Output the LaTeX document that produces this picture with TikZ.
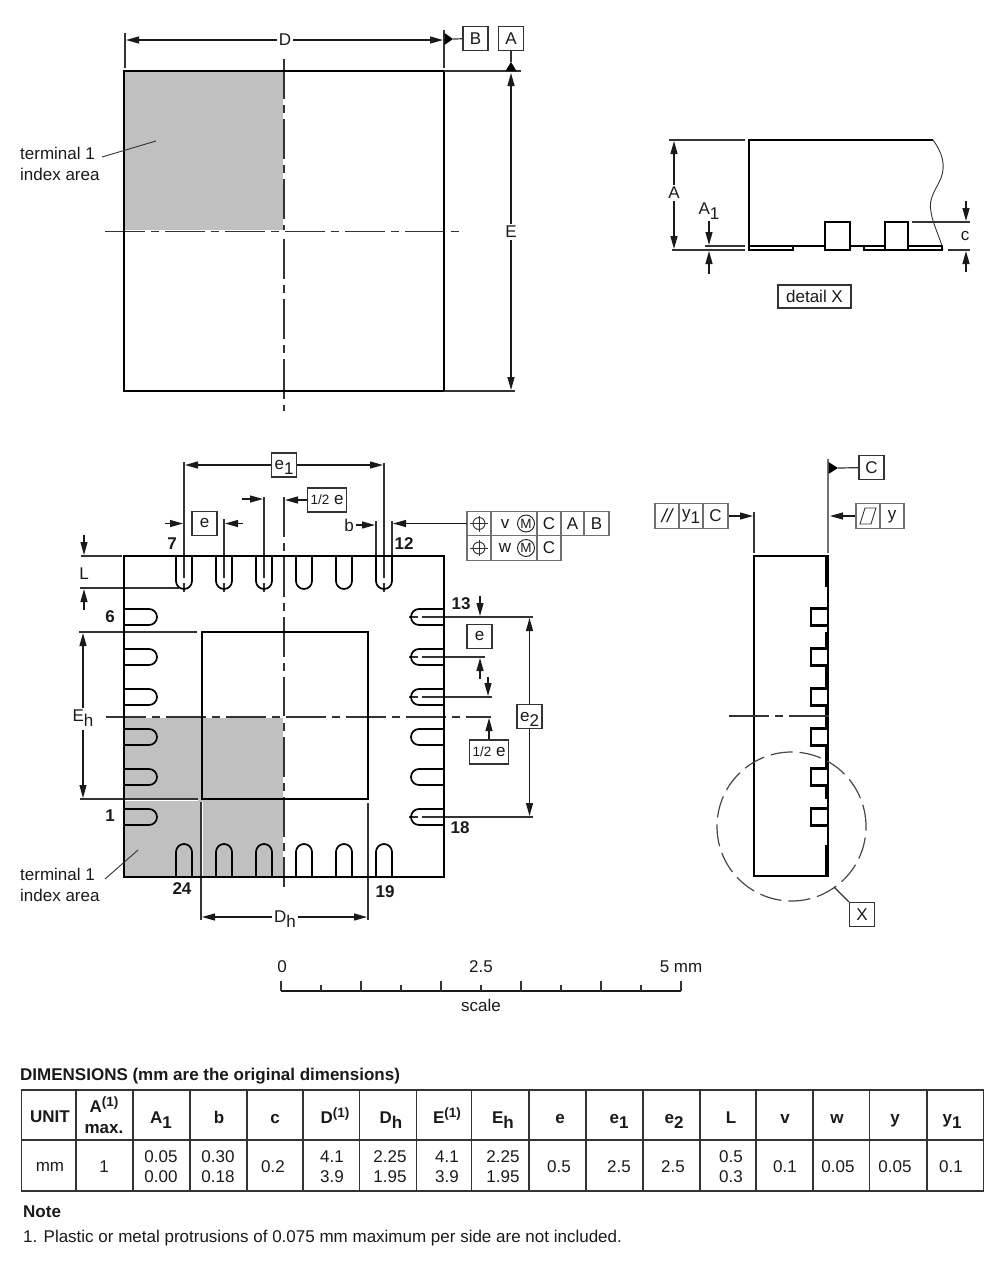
\documentclass[tikz,border=0pt]{standalone}
\usepackage{fontspec}
\setmainfont{Liberation Sans}
\usetikzlibrary{arrows.meta,positioning}
\definecolor{inkc}{HTML}{1A1A1A}
\definecolor{linec}{HTML}{333333}
\definecolor{indexc}{HTML}{C0C0C0}
\newcommand{\subtxt}[1]{\smash{\raisebox{-5pt}{#1}}}
\newcommand{\suptxt}[1]{\smash{\raisebox{6pt}{\fontsize{13.5}{13.5}\selectfont #1}}}
\newcommand{\halftxt}{{\fontsize{13.5}{13.5}\selectfont 1/2}}

\begin{document}
\begin{tikzpicture}[x=1pt, y=-1pt, font=\fontsize{17}{20.5}\selectfont, text=inkc,
    outl/.style={draw=black, line width=2.2pt},
    padln/.style={draw=black, line width=1.7pt, rounded corners=8pt, fill=none},
    extln/.style={draw=linec, line width=1.2pt},
    dimln/.style={draw=inkc, line width=1.2pt, -{Triangle[length=13pt,width=7pt]}},
    centerln/.style={draw=linec, line width=1.3pt, dash pattern=on 40pt off 6pt on 8pt off 6pt,
      preaction={draw=white, solid, line width=2.8pt}},
    halo/.style={preaction={draw=white, line width=3pt}},
    lbl/.style={inner sep=2pt},
    pinlbl/.style={inner sep=1pt, font=\fontsize{17}{20}\selectfont\bfseries},
    tagbox/.style={draw=linec, fill=white, line width=1.2pt, minimum width=25pt, minimum height=24pt, inner sep=0pt},
    cell/.style={draw=linec!70, line width=1.2pt, minimum height=24.5pt, inner sep=0pt},
    circm/.style={circle, draw=inkc, line width=0.9pt, minimum size=17pt, inner sep=0pt, font=\fontsize{13.5}{13.5}\selectfont},
    tabln/.style={draw=linec, line width=1.4pt},
    hd/.style={inner sep=0pt, anchor=base, font=\fontsize{17}{20}\selectfont\bfseries},
    val/.style={inner sep=0pt, align=center, font=\fontsize{17}{20}\selectfont}]
   \useasboundingbox (0,0) rectangle (1000,1264);

   % top view
   \fill[indexc] (125,72) rectangle (284,231);
   \draw[centerln] (284,59) -- (284,411);
   \draw[centerln] (105,231.5) -- (462,231.5);
   \draw[outl] (124,71) rectangle (444,391);
   \draw[extln] (125,33) -- (125,68);
   \draw[extln] (444,30) -- (444,68);
   \draw[extln] (444,71) -- (521,71);
   \draw[extln] (444,391) -- (515,391);
   \node[lbl] (lblD) at (285,40) {D};
   \draw[dimln] (lblD) -- (126,40);
   \draw[dimln] (lblD) -- (443,40);
   \node[lbl] (lblE) at (511,232) {E};
   \draw[dimln] (lblE) -- (511,73);
   \draw[dimln] (lblE) -- (511,390);
   \node[tagbox] (boxB) at (475.5,38.5) {B};
   \node[tagbox] (boxA) at (511,38.5) {A};
   \coordinate (triB) at (453,39);
   \coordinate (triA) at (511,62);
   \fill[black] (444.5,33) -- (triB) -- (444.5,45) -- cycle;
   \fill[black] (505.5,71) -- (triA) -- (516.5,71) -- cycle;
   \draw[extln] (triB) -- (boxB);
   \draw[extln] (triA) -- (boxA);
   \node[lbl, align=left, anchor=west] (lblIdxTop) at (18,164) {terminal 1\\index area};
   \draw[extln, line width=0.9pt] (102,157) -- (156,141);

   % detail X
   \draw[outl] (933,140) -- (749,140) -- (749,250);
   \draw[extln, line width=0.9pt] (933,140) .. controls (942,152) and (946,165) .. (941,178)
      .. controls (936,190) and (928,198) .. (931,212) .. controls (933,225) and (940,237) .. (943,250);
   \draw[outl, line width=1.7pt] (749,246) rectangle (793,250);
   \draw[outl, line width=1.7pt] (793,246) -- (825,246) (850,246) -- (864,246);
   \draw[outl, line width=1.7pt] (864,246) rectangle (885,250);
   \draw[outl, line width=1.7pt] (908,246) rectangle (942,250);
   \draw[outl, line width=1.7pt, fill=white] (825,222) rectangle (850,250);
   \draw[outl, line width=1.7pt, fill=white] (885,222) rectangle (908,250);
   \draw[extln] (669,140) -- (745,140);
   \draw[extln] (672,250) -- (745,250);
   \draw[extln] (705,246) -- (745,246);
   \draw[extln] (912,222) -- (970,222);
   \draw[extln] (948,250) -- (970,250);
   \node[lbl] (lblA) at (674,193) {A};
   \draw[dimln] (lblA) -- (674,141);
   \draw[dimln] (lblA) -- (674,249);
   \node[lbl] (lblAone) at (709,209) {A\subtxt{1}};
   \draw[dimln] (709,221) -- (709,245);
   \draw[dimln] (709,274) -- (709,251);
   \node[lbl] (lblc) at (965,236) {c};
   \draw[dimln] (966,201) -- (966,221);
   \draw[dimln] (966,272) -- (966,251);
   \node[tagbox, minimum width=73pt, minimum height=23pt] (boxDetail) at (814.5,296.5) {detail X};

   % bottom view
   \fill[indexc] (125,717) rectangle (284,876);
   \draw[centerln] (284,497) -- (284,887);
   \draw[centerln] (106,717) -- (491,717);
   \draw[extln] (81,556) -- (122,556);
   \draw[extln] (80,588) -- (179,588);
   \draw[extln] (79,632) -- (197,632);
   \draw[extln, halo] (80,799) -- (198,799);
   \draw[extln, halo] (201,802) -- (201,920);
   \draw[extln] (368,803) -- (368,920);
   \draw[extln] (376,521) -- (376,556);
   \draw[extln] (392,521) -- (392,556);
   \foreach \x/\y in {184/462,224/519,264/497,384/463}
     \draw[extln] (\x,\y) -- (\x,578) (\x,583) -- (\x,592);
   \foreach \y/\x in {617/533,657/485,697/492,817/533}
     \draw[extln] (409,\y) -- (418,\y) (422,\y) -- (\x,\y);
   \draw[outl] (124,556) rectangle (444,877);
   \draw[outl] (202,632) rectangle (368,799);
   \foreach \x in {184,224,264,304,344,384} {
     \draw[padln] (\x-8,556) -- (\x-8,589) -- (\x+8,589) -- (\x+8,556);
     \draw[padln] (\x-8,877) -- (\x-8,844) -- (\x+8,844) -- (\x+8,877);
   }
   \foreach \y in {617,657,697,737,777,817} {
     \draw[padln] (124,\y-8) -- (157,\y-8) -- (157,\y+8) -- (124,\y+8);
     \draw[padln] (444,\y-8) -- (411,\y-8) -- (411,\y+8) -- (444,\y+8);
   }
   \begin{scope}[every node/.style={pinlbl}]
    \node (pin7) at (172,544) {7};
    \node (pin12) at (404,544) {12};
    \node (pin6) at (110,617) {6};
    \node (pin13) at (461,604) {13};
    \node (pin1) at (110,816) {1};
    \node (pin18) at (460,828) {18};
    \node (pin24) at (182,889) {24};
    \node (pin19) at (385,892) {19};
   \end{scope}
   \node[lbl, align=left, anchor=west] (lblIdxBot) at (18,885) {terminal 1\\index area};
   \draw[extln, line width=0.9pt] (105,879) -- (138,850);

   \node[tagbox] (boxEone) at (284,465) {e\subtxt{1}};
   \draw[dimln] (boxEone) -- (185,465);
   \draw[dimln] (boxEone) -- (383,465);
   \node[tagbox] (boxE) at (204.5,523.5) {e};
   \draw[dimln] (165,523.5) -- (183,523.5);
   \draw[dimln] (243,523.5) -- (225,523.5);
   \draw[dimln] (242,499) -- (263,499);
   \node[tagbox, minimum width=39pt] (boxHalfTop) at (327,500) {\halftxt{} e};
   \draw[dimln] (boxHalfTop) -- (285,500);
   \node[lbl] (lblb) at (349,525) {b};
   \draw[dimln] (lblb) -- (375,525);
   \node[lbl] (lblL) at (84,574) {L};
   \draw[dimln] (84,535) -- (84,555);
   \draw[dimln] (84,610) -- (84,589);
   \node[lbl] (lblEh) at (83,716) {E\subtxt{h}};
   \draw[dimln] (lblEh) -- (83,633);
   \draw[dimln] ([yshift=-6pt]lblEh.south) -- (83,798);
   \node[lbl] (lblDh) at (285,917) {D\subtxt{h}};
   \draw[dimln] (lblDh) -- (202,917);
   \draw[dimln] (lblDh) -- (367,917);
   \draw[dimln] (480,596) -- (480,616);
   \node[tagbox] (boxERight) at (479.5,636.5) {e};
   \draw[dimln] (480,679) -- (480,658);
   \draw[dimln] (488,677) -- (488,696);
   \node[tagbox, minimum width=39pt] (boxHalfRight) at (489,752) {\halftxt{} e};
   \draw[dimln] (boxHalfRight) -- (489,718);
   \node[tagbox, fill=white] (boxEtwo) at (529.5,716.5) {e\subtxt{2}};
   \draw[dimln] (boxEtwo) -- (529.5,618);
   \draw[dimln] (boxEtwo) -- (529.5,816);

   % position tolerance frame
   \begin{scope}[every node/.style={cell}]
    \node[minimum width=24pt] (fa1) at (479,523.5) {};
    \node[minimum width=46pt] (fa2) at (514,523.5) {};
    \node[minimum width=24pt] (fa3) at (549,523.5) {C};
    \node[minimum width=23pt] (fa4) at (572.5,523.5) {A};
    \node[minimum width=25pt] (fa5) at (596.5,523.5) {B};
    \node[minimum width=24pt] (fb1) at (479,548) {};
    \node[minimum width=46pt] (fb2) at (514,548) {};
    \node[minimum width=24pt] (fb3) at (549,548) {C};
   \end{scope}
   \foreach \n/\y in {fa1/523.5,fb1/548} {
     \draw[extln, line width=0.9pt] (\n) circle (6pt);
     \draw[extln, line width=0.9pt] (470,\y) -- (488,\y) (479,\y-8) -- (479,\y+8);
   }
   \node[lbl] (tolV) at (505,524) {v};
   \node[lbl] (tolW) at (505,548) {w};
   \node[circm] (tolMa) at (526,523.5) {M};
   \node[circm] (tolMb) at (526,548) {M};
   \draw[dimln] (fa1) ++(-12,0) -- (393,523.5);

   % side view
   \draw[outl] (754,556) rectangle (828,876);
   \foreach \ya/\yb in {556/587,632/799,845/877}
     \draw[draw=black, line width=3.5pt] (827,\ya) -- (827,\yb);
   \foreach \y in {617,657,697,737,777,817}
     \draw[outl, fill=white] (811,\y-8.5) rectangle (828,\y+8.5);
   \draw[extln] (754,512) -- (754,553);
   \draw[extln, draw=linec!70, line width=1.4pt] (828,459) -- (828,553);
   \draw[draw=linec, line width=1.3pt, dash pattern=on 40pt off 6pt on 8pt off 6pt] (729,716) -- (830,716);
   \coordinate (triC) at (838,468);
   \fill[black] (828.5,462) -- (triC) -- (828.5,474) -- cycle;
   \node[tagbox] (boxC) at (871.5,467.5) {C};
   \draw[extln] (triC) -- (boxC);
   \begin{scope}[every node/.style={cell}]
    \node[minimum width=24pt, font=\fontsize{19}{20}\selectfont\itshape] (fc1) at (667,516) {//};
    \node[minimum width=24pt] (fc2) at (691,516) {y\subtxt{1}};
    \node[minimum width=25pt] (fc3) at (715.5,516) {C};
    \node[minimum width=24pt] (fd1) at (868,516) {};
    \node[minimum width=24pt] (fd2) at (892,516) {};
   \end{scope}
   \node[lbl] (lbly) at (892,517) {y};
   \draw[extln, line width=0.9pt] (860,524) -- (865,508) -- (876,508) -- (871,524) -- cycle;
   \draw[dimln] (fc3) -- (753,516);
   \draw[dimln] (fd1) -- (830,516);
   \draw[extln, draw=linec!90, dash pattern=on 22pt off 7pt] (791.5,826.5) circle (74.5pt);
   \node[tagbox] (boxX) at (862,914.5) {X};
   \draw[extln] (834,887) -- (boxX.north west);

   % scale
   \draw[draw=inkc, line width=1.6pt] (281,991) -- (681,991);
   \foreach \x in {281,361,441,521,601,681}
     \draw[extln] (\x,991) -- (\x,981);
   \foreach \x in {321,401,481,561,641}
     \draw[extln] (\x,991) -- (\x,985);
   \node[lbl] (scaleZero) at (282,967) {0};
   \node[lbl] (scaleMid) at (481,967) {2.5};
   \node[lbl] (scaleEnd) at (681,967) {5 mm};
   \node[lbl] (scaleTxt) at (481,1005) {scale};

   % dimensions table
   \node[anchor=west, inner sep=0pt, font=\fontsize{17}{20}\selectfont\bfseries] (tabTitle) at (20,1076) {DIMENSIONS (mm are the original dimensions)};
   \draw[tabln] (21.5,1090) rectangle (983.5,1191);
   \draw[tabln] (21.5,1140) -- (983.5,1140);
   \foreach \x in {76,133,190,247,303,359.5,416.5,471.5,529,586,643,700,756,813,869.5,927}
     \draw[tabln] (\x,1090) -- (\x,1191);
   \node[hd] (hdUnit) at (50,1122) {UNIT};
   \node[hd] (hdA) at (104,1112) {A\suptxt{(1)}};
   \node[hd] (hdMax) at (104,1133) {max.};
   \foreach \n/\x/\t in {c/161/{A\subtxt{1}},d/219/b,e/275/c,f/335/{D\suptxt{(1)}},
      g/391/{D\subtxt{h}},h/447/{E\suptxt{(1)}},i/503/{E\subtxt{h}},j/560/e,k/619/{e\subtxt{1}},l/674/{e\subtxt{2}},
      m/731/L,n/785/v,o/837/w,p/895/y,q/952/{y\subtxt{1}}}
     \node[hd] (hd\n) at (\x,1123) {\t};
   \foreach \n/\x/\t in {a/50/mm,b/104/1,c/161/{0.05\\0.00},d/218/{0.30\\0.18},e/273/0.2,f/332/{4.1\\3.9},
      g/390/{2.25\\1.95},h/447/{4.1\\3.9},i/503/{2.25\\1.95},j/559/0.5,k/619/2.5,l/673/2.5,
      m/731/{0.5\\0.3},n/785/0.1,o/838/0.05,p/895/0.05,q/951/0.1}
     \node[val] (val\n) at (\x,1167) {\t};
   \node[anchor=west, inner sep=0pt, font=\fontsize{17}{20}\selectfont\bfseries] (noteHead) at (23,1212) {Note};
   \node[anchor=west, inner sep=0pt] (noteTxt) at (23,1238) {1. Plastic or metal protrusions of 0.075 mm maximum per side are not included.};
\end{tikzpicture}
\end{document}
